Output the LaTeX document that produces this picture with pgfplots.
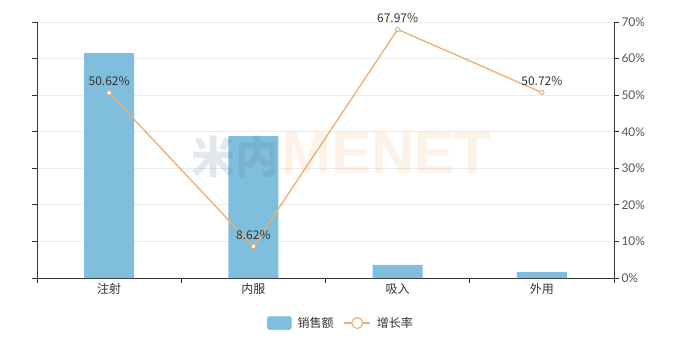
\documentclass[border=0pt]{standalone}
\usepackage{pgfplots}
\pgfplotsset{compat=1.18}
\usepackage{fontspec}
\setmainfont{Lato}
\newfontfamily\cjk{Noto Sans CJK SC}
\newfontfamily\wm{Liberation Sans}

\definecolor{barblue}{HTML}{7FBEDC}
\definecolor{lineorange}{HTML}{EFAD72}
\definecolor{axisgray}{HTML}{333333}
\definecolor{gridgray}{HTML}{EBEBEB}
\definecolor{textgray}{HTML}{555555}
\definecolor{wmblue}{HTML}{4A7F99}
\definecolor{wmorange}{HTML}{F2A45C}

\begin{document}
\begin{tikzpicture}
\useasboundingbox (0pt,0pt) rectangle (675pt,341pt);

% sales volume (left axis, values not labelled)
\begin{axis}[
  at={(37pt,63pt)}, anchor=south west,
  width=577pt, height=256pt, scale only axis,
  xmin=-0.5, xmax=3.5, ymin=0, ymax=70,
  axis y line*=left, axis x line*=bottom,
  axis line style={axisgray, line width=1pt, -},
  tick align=outside, major tick length=5pt,
  tick style={axisgray, line width=0.8pt},
  xtick={-0.5,0.5,1.5,2.5,3.5}, xticklabels={},
  extra x ticks={0,1,2,3},
  extra x tick labels={注射,内服,吸入,外用},
  extra x tick style={major tick length=0pt, grid=none,
    tick style={draw=none}},
  xticklabel style={font=\cjk\fontsize{12}{14}\selectfont, text=axisgray, yshift=-2pt},
  ytick={0,10,...,70}, yticklabels={},
  ymajorgrids, grid style={gridgray, line width=0.8pt},
]
\addplot[ybar, bar width=50pt, fill=barblue, draw=none]
  coordinates {(0,61.5) (1,38.8) (2,3.6) (3,1.6)};
\end{axis}

% growth rate (right axis)
\begin{axis}[
  at={(37pt,63pt)}, anchor=south west,
  width=577pt, height=256pt, scale only axis,
  xmin=-0.5, xmax=3.5, ymin=0, ymax=70,
  axis x line=none, axis y line*=right,
  axis line style={axisgray, line width=1pt, -},
  tick align=outside, major tick length=5pt,
  tick style={axisgray, line width=0.8pt},
  ytick={0,10,...,70},
  /pgf/number format/assume math mode=true,
  yticklabel={\pgfmathprintnumber{\tick}\%},
  yticklabel style={font=\fontsize{12}{14}\selectfont, text=textgray, xshift=-1pt},
  legend style={at={(axis description cs:0.527,-0.176)}, anchor=center,
    draw=none, fill=none, legend columns=2, column sep=4pt,
    font=\cjk\fontsize{12}{14}\selectfont, text=axisgray,
    /tikz/every even column/.append style={column sep=8pt}},
  legend cell align=left,
  clip=false,
]
\addlegendimage{legend image code/.code={
  \fill[barblue, rounded corners=2pt] (0pt,-6.5pt) rectangle (24pt,6.5pt);}}
\addlegendentry{销售额}
\addplot[lineorange, line width=1.3pt, mark=*,
  mark options={fill=white, draw=lineorange, line width=0.9pt},
  mark size=2.2pt,
  nodes near coords={\pgfmathprintnumber[fixed,precision=2,fixed zerofill,assume math mode=true]{\pgfplotspointmeta}\%},
  point meta=y,
  every node near coord/.append style={font=\cjk\fontsize{12}{14}\selectfont, text=axisgray, yshift=3pt},
  legend image code/.code={
    \draw[lineorange, line width=1.3pt] (0pt,0pt) -- (26pt,0pt);
    \draw[lineorange, fill=white, line width=1.1pt] (13pt,0pt) circle (5.5pt);}]
  coordinates {(0,50.62) (1,8.62) (2,67.97) (3,50.72)};
\addlegendentry{增长率}
\end{axis}

% watermark
\node[anchor=base east, inner sep=0pt, text=wmblue, opacity=0.17,
  font=\cjk\bfseries\fontsize{44}{44}\selectfont] at (280pt,168pt) {米内};
\node[anchor=base west, inner sep=0pt, text=wmorange, opacity=0.14,
  font=\wm\bfseries\fontsize{60}{60}\selectfont] at (281pt,168pt) {MENET};
\end{tikzpicture}
\end{document}
